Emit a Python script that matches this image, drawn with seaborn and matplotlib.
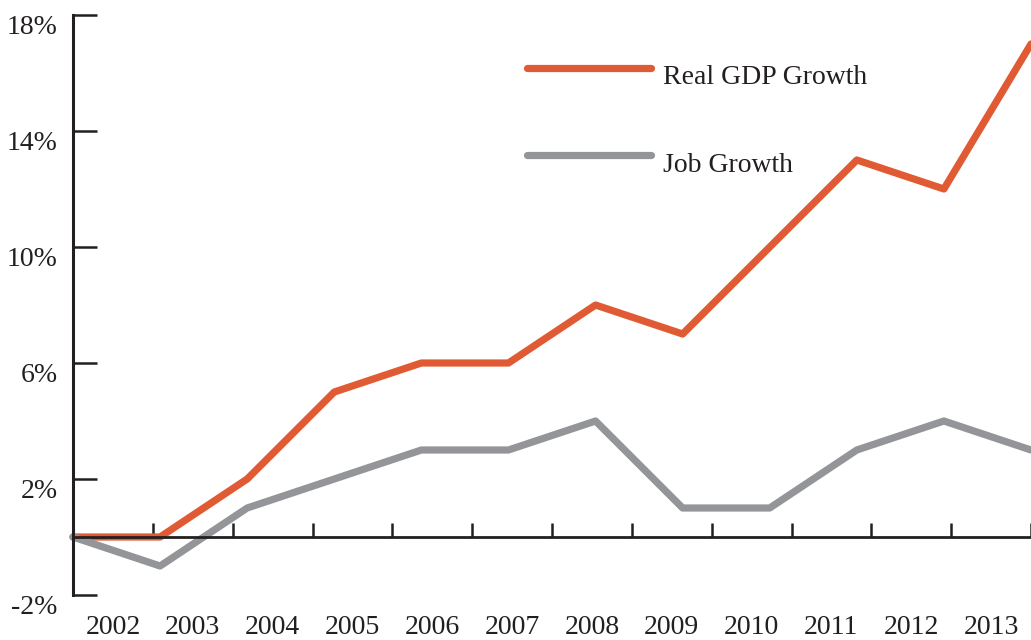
import matplotlib
matplotlib.use("Agg")
import matplotlib.pyplot as plt
import matplotlib.transforms as mtransforms
import numpy as np
import pandas as pd
import seaborn as sns

# Annual growth since 2002, in percent
years = ["2002", "2003", "2004", "2005", "2006", "2007",
         "2008", "2009", "2010", "2011", "2012", "2013"]
gdp_growth = [0, 0, 2, 5, 6, 6, 8, 7, 10, 13, 12, 17]
job_growth = [0, -1, 1, 2, 3, 3, 4, 1, 1, 3, 4, 3]
series_names = ["Real GDP Growth", "Job Growth"]
y_ticks = [-2, 2, 6, 10, 14, 18]

ORANGE = "#E05A33"
GREY = "#939598"
INK = "#231F20"

sns.set_theme(style="white")
plt.rcParams["font.family"] = ["Liberation Serif", "DejaVu Serif"]

df = pd.DataFrame({
    "idx": list(range(len(years))) * 2,
    "value": gdp_growth + job_growth,
    "series": [series_names[0]] * len(years) + [series_names[1]] * len(years),
})

fig = plt.figure(figsize=(10.31, 6.40), dpi=100)
ax = fig.add_axes([73 / 1031, 45 / 640, 1 - 73 / 1031, 580 / 640])

sns.lineplot(data=df, x="idx", y="value", hue="series",
             palette={series_names[0]: ORANGE, series_names[1]: GREY},
             linewidth=5.2, ax=ax, legend=True, clip_on=False)

n = len(years)
ax.set_xlim(0, n - 1)
ax.set_ylim(-2, 18)

for side in ("top", "right"):
    ax.spines[side].set_visible(False)
ax.spines["left"].set_color(INK)
ax.spines["left"].set_linewidth(2.2)
ax.spines["bottom"].set_color(INK)
ax.spines["bottom"].set_linewidth(2.0)
ax.spines["bottom"].set_position(("data", 0))

# y axis: inward ticks with labels hanging just below each tick
ax.set_yticks(y_ticks)
ax.set_yticklabels([f"{v}%" for v in y_ticks])
ax.tick_params(axis="y", direction="in", length=17, width=1.8, color=INK,
               pad=11, labelsize=20, labelcolor=INK, left=True)
for lab in ax.get_yticklabels():
    lab.set_verticalalignment("top")

# x axis: year bins along the zero line, labels centred in each bin
span = n - 1
edges = [k * span / n for k in range(n + 1)]
ax.set_xticks(edges)
ax.set_xticklabels([])
ax.tick_params(axis="x", direction="in", length=10, width=1.8, color=INK,
               bottom=True)
ax.set_xlabel("")
ax.set_ylabel("")

trans = mtransforms.blended_transform_factory(ax.transData, fig.transFigure)
for k, yr in enumerate(years):
    ax.text((k + 0.5) * span / n, 1 - 627 / 640, yr, transform=trans,
            ha="center", va="center", fontsize=20, color=INK)

leg = ax.legend(loc="upper left", bbox_to_anchor=(527 / 1031, 1 - 58 / 640),
                bbox_transform=fig.transFigure, frameon=False, fontsize=20,
                handlelength=4.45, handletextpad=0.45, labelspacing=2.22,
                borderpad=0, borderaxespad=0)
for line in leg.get_lines():
    line.set_linewidth(5.2)
    line.set_solid_capstyle("round")
for t in leg.get_texts():
    t.set_color(INK)
    t.set_position((0, -7))

fig.savefig("out.png", dpi=100)
